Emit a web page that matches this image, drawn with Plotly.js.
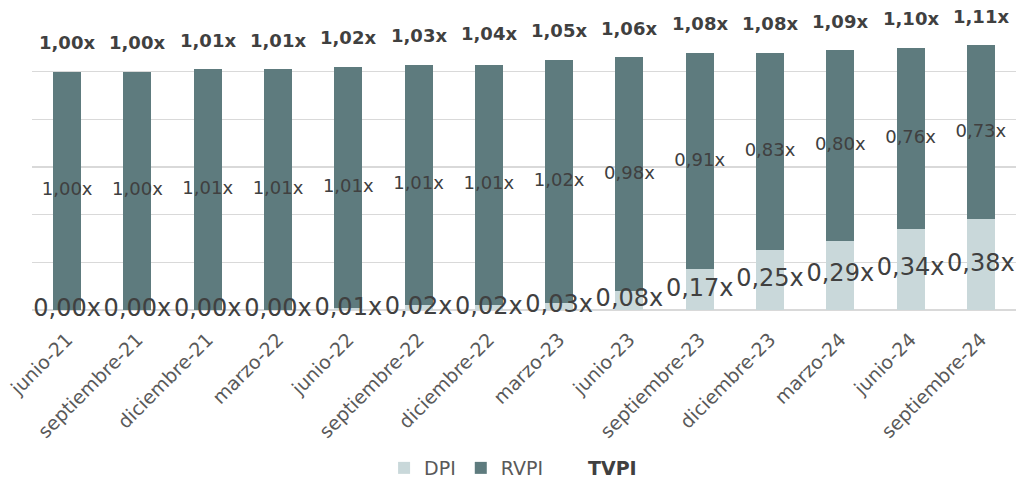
<!DOCTYPE html>
<html>
<head>
<meta charset="utf-8">
<script src="https://cdn.plot.ly/plotly-3.0.1.min.js"></script>
<style>html,body{margin:0;padding:0;background:#fff;}#chart{width:1016px;height:482px;}</style>
</head>
<body>
<div id="chart"></div>
<script>
const categories = ["junio-21","septiembre-21","diciembre-21","marzo-22","junio-22","septiembre-22","diciembre-22","marzo-23","junio-23","septiembre-23","diciembre-23","marzo-24","junio-24","septiembre-24"];
const dpi  = [0.00,0.00,0.00,0.00,0.01,0.02,0.02,0.03,0.08,0.17,0.25,0.29,0.34,0.38];
const rvpi = [1.00,1.00,1.01,1.01,1.01,1.01,1.01,1.02,0.98,0.91,0.83,0.80,0.76,0.73];
const tvpi = [1.00,1.00,1.01,1.01,1.02,1.03,1.04,1.05,1.06,1.08,1.08,1.09,1.10,1.11];

const fmt = v => v.toFixed(2).replace('.', ',') + 'x';
const FONT = '"DejaVu Sans", Verdana, sans-serif';
const TXT = '#404040';

const traces = [
  {type:'bar', name:'DPI', x:categories, y:dpi, marker:{color:'#C9D8DA'}, hoverinfo:'skip'},
  {type:'bar', name:'RVPI', x:categories, y:rvpi, marker:{color:'#5E7B7E'}, hoverinfo:'skip'},
  {type:'scatter', mode:'lines', name:'<span style="font-weight:bold;font-size:19px;color:#404040">TVPI</span>', x:[categories[0]], y:[null], line:{width:0, color:'rgba(0,0,0,0)'}, hoverinfo:'skip'},
  {type:'scatter', mode:'text', showlegend:false, x:categories, y:dpi.map(v => v/2),
   text:dpi.map(fmt), textposition:'middle center', textfont:{family:FONT, size:24, color:TXT}, hoverinfo:'skip', cliponaxis:false},
  {type:'scatter', mode:'text', showlegend:false, x:categories, y:rvpi.map((v,i) => dpi[i] + v/2),
   text:rvpi.map(fmt), textposition:'middle center', textfont:{family:FONT, size:18, color:TXT}, hoverinfo:'skip', cliponaxis:false}
];

const annotations = categories.map((c,i) => ({
  x:c, y:tvpi[i], xref:'x', yref:'y', text:'<b>'+fmt(tvpi[i])+'</b>', showarrow:false,
  yanchor:'middle', xanchor:'center', yshift:29, font:{family:FONT, size:18, color:TXT}
}));

const layout = {
  width:1016, height:482,
  margin:{l:32, r:0, t:24, b:172},
  paper_bgcolor:'#fff', plot_bgcolor:'#fff',
  barmode:'stack', bargap:0.6,
  font:{family:FONT, color:'#595959'},
  xaxis:{type:'category', range:[-0.5, 13.5], autorange:false, tickangle:-45,
         tickfont:{family:FONT, size:19, color:'#595959'},
         showgrid:false, showline:false, ticks:'outside', ticklen:10, tickcolor:'rgba(0,0,0,0)', automargin:false},
  yaxis:{range:[0,1.2], autorange:false, dtick:0.2, showticklabels:false, showgrid:true, gridcolor:'#D9D9D9', gridwidth:1.5,
         zeroline:true, zerolinecolor:'#D9D9D9', zerolinewidth:1.5, ticks:'', automargin:false},
  showlegend:true,
  legend:{orientation:'h', xref:'container', yref:'container', x:0.505, xanchor:'center', y:0.029, yanchor:'middle',
          font:{family:FONT, size:19, color:'#595959'}, traceorder:'normal', tracegroupgap:0, itemwidth:30},
  annotations:annotations
};

Plotly.newPlot('chart', traces, layout, {displayModeBar:false, staticPlot:true});
</script>
</body>
</html>
